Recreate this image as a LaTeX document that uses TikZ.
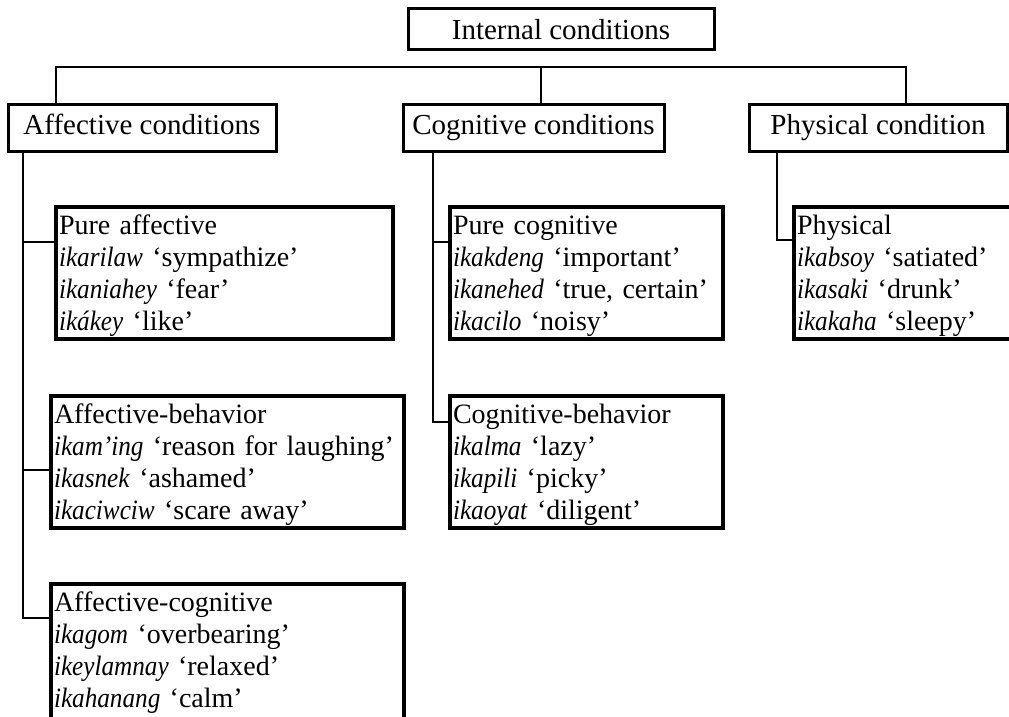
\documentclass[tikz,border=0pt]{standalone}
\usepackage{fontspec}
\setmainfont{Liberation Serif}[ItalicFeatures={FakeStretch=0.9}]
\newcommand\fstrut{\rule{0pt}{27pt}}
\newcommand\lstrut[1]{\rule[-#1]{0pt}{#1}}
\newcommand\wl[1]{\mbox{#1}}
\begin{document}
\begin{tikzpicture}[x=1pt,y=1pt,
  every node/.style={font=\fontsize{29}{32.3}\selectfont, outer sep=0pt},
  topbox/.style={draw, line width=3pt, minimum height=47pt, inner sep=0pt, align=center, text height=20.5pt, text depth=6.5pt},
  subbox/.style={draw, line width=3.2pt, anchor=north west, align=left, inner xsep=3pt, inner ysep=0pt, font=\fontsize{28}{32.3}\selectfont},
  conn/.style={line width=1.7pt}]
\clip (0,0) rectangle (1009,-716);
\node[topbox, minimum width=306pt, minimum height=41pt, text height=21pt, text depth=0pt] (int) at (561,-28.5) {Internal conditions};
\node[topbox, minimum width=268pt] (aff) at (142,-127.5) {Affective conditions};
\node[topbox, minimum width=261pt] (cog) at (533.5,-127.5) {Cognitive conditions};
\node[topbox, minimum width=258pt] (phys) at (878,-127.5) {Physical condition};

\node[subbox, text width=331pt] (pa) at (56,-207) {\fstrut\wl{Pure affective}\\ \wl{\textit{ikarilaw} ‘sympathize’}\\ \wl{\textit{ikaniahey} ‘fear’}\\ \wl{\textit{ikákey} ‘like’}\lstrut{8pt}};
\node[subbox, text width=347pt] (ab) at (51,-396) {\fstrut\wl{Affective-behavior}\\ \wl{\textit{ikam’ing} ‘reason for laughing’}\\ \wl{\textit{ikasnek} ‘ashamed’}\\ \wl{\textit{ikaciwciw} ‘scare away’}\lstrut{8pt}};
\node[subbox, text width=347pt] (ac) at (51,-584) {\fstrut\wl{Affective-cognitive}\\ \wl{\textit{ikagom} ‘overbearing’}\\ \wl{\textit{ikeylamnay} ‘relaxed’}\\ \wl{\textit{ikahanang} ‘calm’}\lstrut{16pt}};
\node[subbox, text width=267pt] (pc) at (450,-207) {\fstrut\wl{Pure cognitive}\\ \wl{\textit{ikakdeng} ‘important’}\\ \wl{\textit{ikanehed} ‘true, certain’}\\ \wl{\textit{ikacilo} ‘noisy’}\lstrut{8pt}};
\node[subbox, text width=267pt] (cb) at (450,-396) {\fstrut\wl{Cognitive-behavior}\\ \wl{\textit{ikalma} ‘lazy’}\\ \wl{\textit{ikapili} ‘picky’}\\ \wl{\textit{ikaoyat} ‘diligent’}\lstrut{8pt}};
\node[subbox, text width=234pt] (ph) at (794,-207) {\fstrut\wl{Physical}\\ \wl{\textit{ikabsoy} ‘satiated’}\\ \wl{\textit{ikasaki} ‘drunk’}\\ \wl{\textit{ikakaha} ‘sleepy’}\lstrut{8pt}};

% bus
\draw[conn] ([xshift=-86]aff.north) -- ++(0,37.3) -| ([xshift=28]phys.north);
\draw[conn] ([xshift=7.5]cog.north) -- ++(0,37.3);

% affective branch
\draw[conn] ([xshift=15]aff.south west) |- ([yshift=-34]ac.north west);
\draw[conn] ([xshift=15]aff.south west) |- ([yshift=-35]pa.north west);
\draw[conn] ([xshift=15]aff.south west) |- ([yshift=-74]ab.north west);
% cognitive branch
\draw[conn] ([xshift=30]cog.south west) |- ([yshift=-35]pc.north west);
\draw[conn] ([xshift=30]cog.south west) |- ([yshift=-26]cb.north west);
% physical branch
\draw[conn] ([xshift=28]phys.south west) |- ([yshift=-33]ph.north west);
\end{tikzpicture}
\end{document}
